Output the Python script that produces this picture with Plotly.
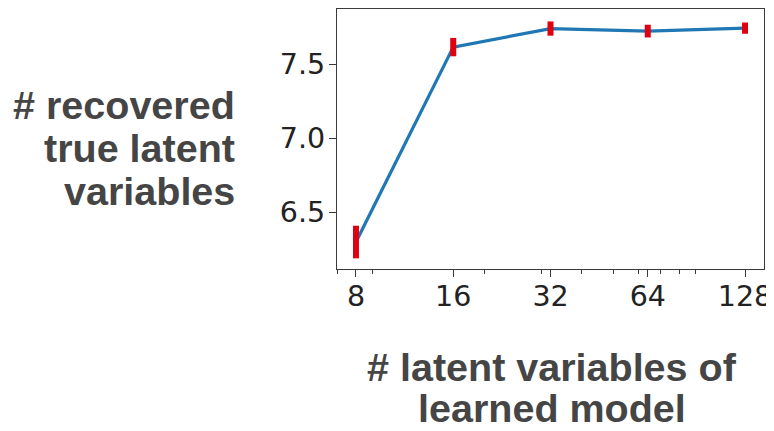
import math
import plotly.graph_objects as go

# data
latent_sizes = [8, 16, 32, 64, 128]
recovered_mean = [6.30, 7.615, 7.74, 7.723, 7.743]
recovered_err = [0.11, 0.062, 0.048, 0.043, 0.038]
x_tick_labels = ["8", "16", "32", "64", "128"]
y_tick_vals = [6.5, 7.0, 7.5]
y_tick_labels = ["6.5", "7.0", "7.5"]
minor_x = [7, 9, 20, 30, 40, 50, 60, 70, 80, 90]
y_title_lines = ["# recovered", "true latent", "variables"]
x_title_lines = ["# latent variables of", "learned model"]

OFF = 8  # page body margin
W, H = 766, 423
L, T = 337 - OFF, 9 - OFF
R = W - (764 - OFF)
B = H - (269 - OFF)
pw, ph = W - L - R, H - T - B

fig = go.Figure()
fig.add_trace(go.Scatter(
    x=latent_sizes, y=recovered_mean, mode="lines",
    line=dict(color="#1f77b4", width=3.2), showlegend=False, hoverinfo="skip"))
fig.add_trace(go.Scatter(
    x=latent_sizes, y=recovered_mean, mode="markers",
    marker=dict(size=1, opacity=0),
    error_y=dict(type="data", array=recovered_err, visible=True,
                 color="#e00010", thickness=6, width=0),
    showlegend=False))

axis_common = dict(showline=True, linecolor="#3a3a3a", linewidth=1.2, mirror=True,
                   showgrid=False, zeroline=False, ticks="outside",
                   tickcolor="#3a3a3a", tickwidth=1, automargin=False,
                   ticklabeloverflow="allow",
                   tickfont=dict(family="DejaVu Sans", size=28.5, color="#222222"))

fig.update_xaxes(type="log",
                 range=[math.log10(2 ** 2.805), math.log10(2 ** 7.195)],
                 tickmode="array", tickvals=latent_sizes, ticktext=x_tick_labels,
                 ticklen=7, ticklabelstandoff=-5,
                 minor=dict(tickmode="array", tickvals=minor_x, ticks="outside",
                            ticklen=4, tickcolor="#3a3a3a", tickwidth=1),
                 **axis_common)
fig.update_yaxes(range=[6.118, 7.872], tickmode="array",
                 tickvals=y_tick_vals, ticktext=y_tick_labels, ticklen=7,
                 ticklabelstandoff=-2,
                 **axis_common)

title_font = dict(family="Liberation Sans", size=39.5, color="#454545")
anns = []
for i, txt in enumerate(y_title_lines):
    ypx = 105 + i * 43 - OFF
    anns.append(dict(text="<b>%s</b>" % txt, xref="paper", yref="paper",
                     x=(237 - OFF - L) / pw, y=(H - B - ypx) / ph,
                     xanchor="right", yanchor="middle", showarrow=False,
                     font=title_font))
for i, txt in enumerate(x_title_lines):
    ypx = 366.5 + i * 41.7 - OFF
    anns.append(dict(text="<b>%s</b>" % txt, xref="paper", yref="paper",
                     x=(552 - OFF - L) / pw, y=(H - B - ypx) / ph,
                     xanchor="center", yanchor="middle", showarrow=False,
                     font=title_font))

fig.update_layout(width=W, height=H, margin=dict(l=L, r=R, t=T, b=B),
                  paper_bgcolor="white", plot_bgcolor="white",
                  annotations=anns)
fig.write_html("out.html")
